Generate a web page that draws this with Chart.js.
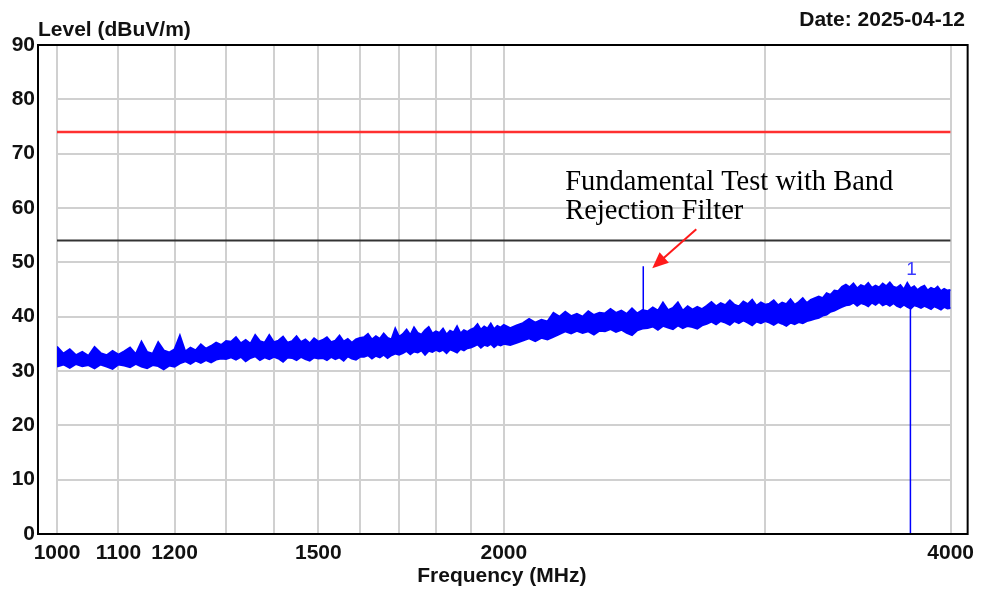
<!DOCTYPE html>
<html>
<head>
<meta charset="utf-8">
<script src="https://cdn.jsdelivr.net/npm/chart.js@4.4.1/dist/chart.umd.min.js"></script>
<style>
  html, body { margin: 0; padding: 0; background: #fff; }
  canvas { display: block; }
</style>
</head>
<body>
<canvas id="myChart" width="981" height="591"></canvas>
<script>
// sweep frequencies (MHz)
var freqMHz = [
  1000,1010,1020,1030,1040,1050,1060,1070,1080,1090,
  1100,1110,1120,1130,1140,1150,1160,1170,1180,1190,
  1200,1210,1220,1230,1240,1250,1260,1270,1280,1290,
  1300,1310,1320,1330,1340,1350,1360,1370,1380,1390,
  1400,1410,1420,1430,1440,1450,1460,1470,1480,1490,
  1500,1510,1520,1530,1540,1550,1560,1570,1580,1590,
  1600,1610,1620,1630,1640,1650,1660,1670,1680,1690,
  1700,1710,1720,1730,1740,1750,1760,1770,1780,1790,
  1800,1810,1820,1830,1840,1850,1860,1870,1880,1890,
  1900,1910,1920,1930,1940,1950,1960,1970,1980,1990,
  2000,2020,2040,2060,2080,2100,2120,2140,2160,2180,
  2200,2220,2240,2260,2280,2300,2320,2340,2360,2380,
  2400,2420,2440,2460,2480,2500,2520,2540,2560,2580,
  2600,2620,2640,2660,2680,2700,2720,2740,2760,2780,
  2800,2820,2840,2860,2880,2900,2920,2940,2960,2980,
  3000,3020,3040,3060,3080,3100,3120,3140,3160,3180,
  3200,3220,3240,3260,3280,3300,3320,3340,3360,3380,
  3400,3420,3440,3460,3480,3500,3520,3540,3560,3580,
  3600,3620,3640,3660,3680,3700,3720,3740,3760,3780,
  3800,3820,3840,3860,3880,3900,3920,3940,3960,3980,
  4000
];

// upper edge of the measured trace (dBuV/m)
var levelUpper = [
  34.5,33.2,34.0,32.9,33.5,32.8,34.4,33.3,32.9,33.7,33.0,
  33.6,34.3,33.1,35.4,33.5,33.2,35.3,33.8,33.4,34.0,
  36.5,33.6,34.3,33.8,34.9,34.1,34.6,35.2,34.8,35.5,
  35.4,36.2,35.1,35.7,35.0,36.6,35.5,35.2,36.6,35.3,
  35.6,36.3,35.2,35.5,36.4,35.3,35.8,35.1,36.0,35.4,
  35.7,36.2,35.3,35.6,36.5,35.4,35.9,35.2,35.8,36.1,
  36.2,36.8,35.8,36.4,35.9,36.9,36.1,35.8,37.8,36.3,
  36.8,37.6,36.6,38.0,37.0,36.7,37.5,38.1,36.9,37.3,
  37.0,37.8,36.7,37.4,37.1,38.2,36.9,37.5,37.2,37.6,
  37.9,38.6,37.6,38.2,37.8,38.7,37.7,38.3,38.0,38.5,
  37.9,38.4,
  38.8,39.6,38.9,39.4,39.1,40.7,
  40.0,40.9,40.1,40.5,40.0,41.0,40.3,40.7,
  40.6,41.4,40.7,41.1,40.5,41.5,40.6,41.2,
  41.0,41.7,41.1,42.6,41.2,41.6,42.6,41.1,41.9,41.3,41.8,41.4,
  42.0,42.7,41.9,42.5,42.1,43.0,42.2,41.9,42.8,42.3,43.1,42.0,42.6,42.2,
  42.4,43.0,42.1,42.6,42.3,43.2,42.2,42.7,43.4,42.5,43.1,43.4,
  43.7,43.4,44.3,44.0,44.8,44.7,45.5,45.9,
  45.4,46.1,45.2,45.8,45.5,46.2,45.3,45.7,45.4,46.1,45.6,46.3,45.5,
  45.3,45.8,45.0,46.2,45.2,45.6,44.9,45.4,45.7,44.8,45.3,45.0,45.5,44.7,45.1,44.8,44.9
];

// lower edge of the measured trace (dBuV/m)
var levelLower = [
  30.8,31.2,30.6,31.3,30.9,31.1,30.5,31.2,30.8,30.4,31.2,
  31.0,30.7,31.3,30.8,30.5,31.1,30.9,30.3,31.0,30.8,
  31.4,31.8,31.3,31.9,31.5,32.0,31.6,32.1,32.3,32.2,
  32.5,32.1,32.6,31.8,32.4,32.7,32.0,32.5,32.2,32.6,
  32.3,31.7,32.5,32.4,32.0,32.6,32.2,31.9,32.5,32.3,
  32.4,32.0,32.6,32.2,32.5,31.9,32.7,32.3,32.1,32.6,
  32.6,32.9,32.3,32.8,32.5,33.0,32.4,32.9,33.2,33.0,
  33.3,33.7,33.1,33.6,33.4,33.8,33.0,33.7,33.5,33.9,
  33.6,33.9,33.3,34.0,33.7,33.4,34.1,33.8,34.2,34.3,
  34.6,34.9,34.3,34.8,34.6,35.0,34.4,34.9,34.7,35.0,
  34.8,35.2,
  35.6,36.0,35.5,36.1,35.8,36.3,
  36.8,37.3,36.9,37.4,37.0,37.3,36.7,37.4,
  37.3,37.7,37.2,37.6,37.0,36.6,37.5,37.8,
  37.9,38.2,37.6,38.3,38.0,37.7,38.4,37.9,38.3,38.1,37.8,38.4,
  38.7,39.1,38.6,39.2,38.9,38.5,39.2,38.8,39.3,38.9,38.4,39.1,38.8,39.2,
  38.9,38.5,39.0,38.7,38.3,38.9,38.6,39.0,38.8,39.2,39.4,39.6,
  39.8,40.2,40.4,40.9,41.1,41.5,41.8,42.1,
  42.2,42.6,42.0,42.5,42.3,41.9,42.6,42.2,42.7,42.1,42.4,42.0,42.5,
  42.0,41.7,42.2,41.8,41.5,42.1,41.9,41.6,42.0,41.7,41.4,41.9,41.6,41.3,41.8,41.5,41.6
];

// limits, spike and marker
var limitPeak = 74;
var limitAvg = 54;
var spikeFreq = 2483;
var spikeLevel = [38.5, 49.3];
var markerFreq = 3758;
var markerLevel = 44.8;
var markerLabel = '1';

// x axis
var xGridTicks = [1000, 1100, 1200, 1300, 1400, 1500, 1600, 1700, 1800, 1900, 2000, 3000, 4000];
var xLabelTicks = [1000, 1100, 1200, 1500, 2000, 4000];

var blue = '#0000ff';
var txtFont = 'bold 21px "Liberation Sans", Arial, sans-serif';

var upperPts = freqMHz.map(function (f, i) { return { x: f, y: levelUpper[i] }; });
var lowerPts = freqMHz.map(function (f, i) { return { x: f, y: levelLower[i] }; });

var decor = {
  id: 'decor',
  afterDraw: function (chart) {
    var ctx = chart.ctx;
    var a = chart.chartArea;
    var xs = chart.scales.x, ys = chart.scales.y;
    ctx.save();

    // outer frame
    ctx.strokeStyle = '#000';
    ctx.lineWidth = 2;
    ctx.strokeRect(a.left - 19, a.top, (a.right + 17) - (a.left - 19), a.bottom - a.top);

    // header texts
    ctx.fillStyle = '#111';
    ctx.font = txtFont;
    ctx.textBaseline = 'alphabetic';
    ctx.textAlign = 'left';
    ctx.fillText('Level (dBuV/m)', a.left - 19, 36);
    ctx.textAlign = 'right';
    ctx.fillText('Date: 2025-04-12', 965, 26);
    ctx.textAlign = 'center';
    ctx.fillText('Frequency (MHz)', (a.left + a.right) / 2 - 2, 582);

    // marker label
    ctx.fillStyle = '#3a3aff';
    ctx.font = '19px "Liberation Sans", Arial, sans-serif';
    ctx.fillText(markerLabel, xs.getPixelForValue(markerFreq) + 1, ys.getPixelForValue(markerLevel) - 16);

    // annotation
    var sx = xs.getPixelForValue(spikeFreq);
    var sy = ys.getPixelForValue(spikeLevel[1]);
    ctx.fillStyle = '#000';
    ctx.font = '28.5px "Liberation Serif", "Times New Roman", serif';
    ctx.textAlign = 'left';
    ctx.fillText('Fundamental Test with Band', sx - 78, sy - 76);
    ctx.fillText('Rejection Filter', sx - 78, sy - 47);

    // red arrow
    var tipX = sx + 9, tipY = sy + 2;
    var tailX = sx + 53, tailY = sy - 37;
    var ang = Math.atan2(tipY - tailY, tipX - tailX);
    ctx.strokeStyle = '#ff1a1a';
    ctx.fillStyle = '#ff1a1a';
    ctx.lineWidth = 2;
    ctx.beginPath();
    ctx.moveTo(tailX, tailY);
    ctx.lineTo(tipX - 10 * Math.cos(ang), tipY - 10 * Math.sin(ang));
    ctx.stroke();
    ctx.beginPath();
    ctx.moveTo(tipX, tipY);
    ctx.lineTo(tipX - 16 * Math.cos(ang) + 7 * Math.sin(ang), tipY - 16 * Math.sin(ang) - 7 * Math.cos(ang));
    ctx.lineTo(tipX - 16 * Math.cos(ang) - 7 * Math.sin(ang), tipY - 16 * Math.sin(ang) + 7 * Math.cos(ang));
    ctx.closePath();
    ctx.fill();

    ctx.restore();
  }
};

var data = {
  datasets: [
    {
      data: upperPts,
      borderColor: blue,
      backgroundColor: blue,
      borderWidth: 2,
      fill: '+1',
      pointRadius: 0,
      tension: 0
    },
    {
      data: lowerPts,
      borderColor: blue,
      borderWidth: 2,
      fill: false,
      pointRadius: 0,
      tension: 0
    },
    {
      data: [{ x: spikeFreq, y: spikeLevel[0] }, { x: spikeFreq, y: spikeLevel[1] }],
      borderColor: blue,
      borderWidth: 1.5,
      pointRadius: 0
    },
    {
      data: [{ x: markerFreq, y: 0 }, { x: markerFreq, y: markerLevel }],
      borderColor: blue,
      borderWidth: 1.5,
      pointRadius: 0
    },
    {
      data: [{ x: 1000, y: limitPeak }, { x: 4000, y: limitPeak }],
      borderColor: '#ff3030',
      borderWidth: 2.5,
      pointRadius: 0
    },
    {
      data: [{ x: 1000, y: limitAvg }, { x: 4000, y: limitAvg }],
      borderColor: '#333333',
      borderWidth: 2,
      pointRadius: 0
    }
  ]
};

var config = {
  type: 'line',
  data: data,
  options: {
    responsive: false,
    animation: false,
    layout: { padding: { left: 0, right: 29, top: 45, bottom: 0 } },
    plugins: {
      legend: { display: false },
      tooltip: { enabled: false }
    },
    scales: {
      x: {
        type: 'logarithmic',
        min: 1000,
        max: 4000,
        afterBuildTicks: function (scale) {
          scale.ticks = xGridTicks.map(function (v) { return { value: v }; });
        },
        afterFit: function (scale) { scale.height = 57; },
        grid: { color: '#d0d0d0', lineWidth: 2, drawTicks: false },
        border: { display: false },
        ticks: {
          autoSkip: false,
          maxRotation: 0,
          padding: 7,
          color: '#111',
          font: { family: '"Liberation Sans", Arial, sans-serif', size: 21, weight: 'bold' },
          callback: function (v) { return xLabelTicks.indexOf(v) >= 0 ? String(v) : ''; }
        }
      },
      y: {
        min: 0,
        max: 90,
        afterFit: function (scale) { scale.width = 57; },
        grid: { color: '#d0d0d0', lineWidth: 2, drawTicks: false },
        border: { display: false },
        ticks: {
          stepSize: 10,
          padding: 22,
          color: '#111',
          font: { family: '"Liberation Sans", Arial, sans-serif', size: 21, weight: 'bold' }
        }
      }
    }
  },
  plugins: [decor]
};

var myChart = new Chart(document.getElementById('myChart'), config);
</script>
</body>
</html>
